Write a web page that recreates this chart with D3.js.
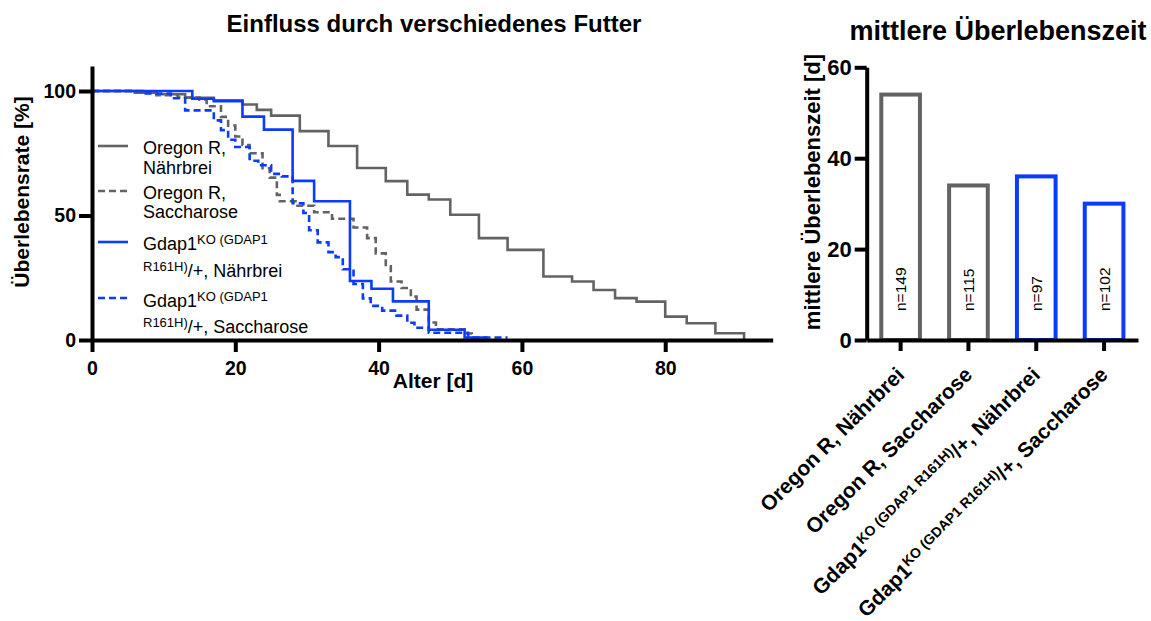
<!DOCTYPE html>
<html>
<head>
<meta charset="utf-8">
<script src="https://cdn.jsdelivr.net/npm/d3@7"></script>
<style>
  body { margin: 0; background: #fff; }
  svg { display: block; }
  text { font-family: "Liberation Sans", Arial, Helvetica, sans-serif; fill: #000; }
</style>
</head>
<body>
<svg id="chart" width="1151" height="621"></svg>
<script>
// Kaplan-Meier survival, [age in days, surviving %]
const oregonNaehrbrei = [[0,100],[6,99.3],[9,98.7],[13,97.3],[17,96.3],[21,94.6],[23,92.4],[25,90.1],[29,83.9],[33,77.9],[37,69.1],[41,63.8],[44,58.4],[47,56.4],[50,50.3],[54,40.9],[58,36.2],[63,25.5],[67,23.5],[70,20.1],[73,16.8],[76,15.4],[80,9.4],[83,6.7],[87,2.7],[91,0]];
const oregonSaccharose = [[0,100],[6,99.3],[9,98.3],[12,97.4],[15,96.5],[16,93.9],[18,89.6],[19,86.1],[20,81.7],[21,78.3],[22,75.0],[23.8,69.0],[24.8,65.2],[25.8,58.3],[26.2,55.7],[28.4,53.9],[31,51.3],[33.5,48.7],[36.5,45.2],[38.4,40.9],[39.6,34.8],[41,29.6],[41.7,23.5],[43.2,20.9],[44.5,17.4],[45.3,12.2],[47,7.0],[48,4.3],[52,2.6],[53,0]];
const gdapNaehrbrei = [[0,100],[14,96.9],[17,95.9],[21,89.7],[24,84.5],[28,63.9],[31,55.7],[36,23.7],[39,20.6],[42,15.5],[47,4.1],[52,1.0],[55,0]];
const gdapSaccharose = [[0,100],[7,99.0],[11,97.1],[13,92.2],[17,88.2],[18,84.3],[19,80.4],[20,77.5],[22,72.0],[23.2,70.2],[25,66.7],[26.5,65.7],[28,54.9],[29.5,51.0],[30.3,44.1],[31.5,39.2],[33,35.3],[34,33.3],[35,28.4],[36.5,22.5],[37.8,16.7],[38.9,13.7],[40.5,11.8],[42.5,9.8],[44,6.9],[45,4.9],[47,2.9],[52.5,1.0],[58,1.0]];

// median survival per group and group sizes
const groups = ["Oregon R, Nährbrei", "Oregon R, Saccharose", "Gdap1 Nährbrei", "Gdap1 Saccharose"];
const medianDays = [54, 34, 36, 30];
const groupN = [149, 115, 97, 102];

const survivalTicksX = [0, 20, 40, 60, 80];
const survivalTicksY = [0, 50, 100];
const medianTicksY = [0, 20, 40, 60];

const GREY = "#636363", BLUE = "#0b3bff";

const series = [
  { data: oregonNaehrbrei,  color: GREY, dash: null,  lines: [[{t:"Oregon R,"}], [{t:"Nährbrei"}]] },
  { data: oregonSaccharose, color: GREY, dash: "7,4", lines: [[{t:"Oregon R,"}], [{t:"Saccharose"}]] },
  { data: gdapNaehrbrei,    color: BLUE, dash: null,  lines: [[{t:"Gdap1"},{t:"KO (GDAP1",sup:true}], [{t:"R161H)",sup:true},{t:"/+, Nährbrei"}]] },
  { data: gdapSaccharose,   color: BLUE, dash: "7,4", lines: [[{t:"Gdap1"},{t:"KO (GDAP1",sup:true}], [{t:"R161H)",sup:true},{t:"/+, Saccharose"}]] }
];
const barColors = [GREY, GREY, BLUE, BLUE];
const categoryLabels = [
  [{t:"Oregon R, Nährbrei"}],
  [{t:"Oregon R, Saccharose"}],
  [{t:"Gdap1"},{t:"KO (GDAP1 R161H)",sup:true},{t:"/+, Nährbrei"}],
  [{t:"Gdap1"},{t:"KO (GDAP1 R161H)",sup:true},{t:"/+, Saccharose"}]
];

const svg = d3.select("#chart");

function styleAxis(g, fontSize) {
  g.select(".domain").attr("stroke", "#000").attr("stroke-width", 4);
  g.selectAll(".tick line").attr("stroke", "#000").attr("stroke-width", 4);
  g.selectAll(".tick text").attr("fill", "#000")
    .style("font-size", fontSize + "px").style("font-weight", "bold");
}

// ---------- survival curves ----------
const x = d3.scaleLinear().domain([0, 95]).range([92, 772.7]);
const y = d3.scaleLinear().domain([0, 110]).range([340, 66.1]);

const line = d3.line().x(d => x(d[0])).y(d => y(d[1])).curve(d3.curveStepAfter);

svg.append("g").selectAll("path").data(series).join("path")
  .attr("d", d => line(d.data))
  .attr("fill", "none")
  .attr("stroke", d => d.color)
  .attr("stroke-width", 2.6)
  .attr("stroke-dasharray", d => d.dash);

const gx = svg.append("g").attr("transform", `translate(0,${y(0)})`)
  .call(d3.axisBottom(x).tickValues(survivalTicksX).tickSize(12).tickSizeOuter(0).tickPadding(9));
styleAxis(gx, 19.5);
const gy = svg.append("g").attr("transform", `translate(${x(0)},0)`)
  .call(d3.axisLeft(y).tickValues(survivalTicksY).tickSize(13).tickSizeOuter(0).tickPadding(3));
styleAxis(gy, 19.5);

svg.append("text").attr("x", 433).attr("y", 388).attr("text-anchor", "middle")
  .style("font-size", "21px").style("font-weight", "bold").text("Alter [d]");
svg.append("text").attr("transform", "translate(29,192) rotate(-90)").attr("text-anchor", "middle")
  .style("font-size", "21px").style("font-weight", "bold").text("Überlebensrate [%]");
svg.append("text").attr("x", 434).attr("y", 32).attr("text-anchor", "middle")
  .style("font-size", "24px").style("font-weight", "bold").text("Einfluss durch verschiedenes Futter");

// legend
const legendRows = [146, 191, 242, 298];
const legendBase = [[153.5, 173.5], [199, 218], [250, 277], [306.5, 332.5]];
const legend = svg.append("g");
series.forEach((s, i) => {
  legend.append("line").attr("x1", 98).attr("x2", 128)
    .attr("y1", legendRows[i]).attr("y2", legendRows[i])
    .attr("stroke", s.color).attr("stroke-width", 2.6).attr("stroke-dasharray", s.dash);
  s.lines.forEach((parts, j) => {
    const t = legend.append("text").attr("x", 143).attr("y", legendBase[i][j]).style("font-size", "18px");
    let raised = false;
    parts.forEach(p => {
      const sp = t.append("tspan").text(p.t);
      if (p.sup && !raised) { sp.attr("dy", -6).style("font-size", "13px"); raised = true; }
      else if (!p.sup && raised) { sp.attr("dy", 6); raised = false; }
      else if (p.sup) sp.style("font-size", "13px");
    });
  });
});

// ---------- median survival bars ----------
const xb = d3.scaleBand().domain(groups).range([866.7, 1138]).paddingInner(0.43).paddingOuter(0.215);
const yb = d3.scaleLinear().domain([0, 60]).range([340, 67.3]);

svg.append("g").selectAll("rect").data(groups).join("rect")
  .attr("x", g => xb(g))
  .attr("width", xb.bandwidth())
  .attr("y", (g, i) => yb(medianDays[i]))
  .attr("height", (g, i) => yb(0) - yb(medianDays[i]))
  .attr("fill", "#fff")
  .attr("stroke", (g, i) => barColors[i])
  .attr("stroke-width", 4);

svg.append("g").selectAll("text").data(groups).join("text")
  .attr("transform", g => `translate(${xb(g) + xb.bandwidth() / 2},311) rotate(-90)`)
  .attr("dy", "0.35em")
  .style("font-size", "15.5px")
  .text((g, i) => "n=" + groupN[i]);

const gxb = svg.append("g").attr("transform", `translate(0,${yb(0)})`)
  .call(d3.axisBottom(xb).tickSize(11).tickSizeOuter(0).tickFormat(""));
styleAxis(gxb, 20);
const gyb = svg.append("g").attr("transform", "translate(866.7,0)")
  .call(d3.axisLeft(yb).tickValues(medianTicksY).tickSize(12).tickSizeOuter(0).tickPadding(3));
styleAxis(gyb, 22);

// rotated category labels
groups.forEach((g, i) => {
  const cx = xb(g) + xb.bandwidth() / 2;
  const t = svg.append("text")
    .attr("transform", `translate(${cx + 5},376) rotate(-45)`)
    .attr("text-anchor", "end")
    .style("font-size", "21px").style("font-weight", "bold");
  let raised = false;
  categoryLabels[i].forEach(p => {
    const sp = t.append("tspan").text(p.t);
    if (p.sup) { sp.attr("dy", -7).style("font-size", "14px"); raised = true; }
    else if (raised) { sp.attr("dy", 7); raised = false; }
  });
});

svg.append("text").attr("transform", "translate(820,192) rotate(-90)").attr("text-anchor", "middle")
  .style("font-size", "22px").style("font-weight", "bold").text("mittlere Überlebenszeit [d]");
svg.append("text").attr("x", 998).attr("y", 40).attr("text-anchor", "middle")
  .style("font-size", "27px").style("font-weight", "bold").text("mittlere Überlebenszeit");
</script>
</body>
</html>
